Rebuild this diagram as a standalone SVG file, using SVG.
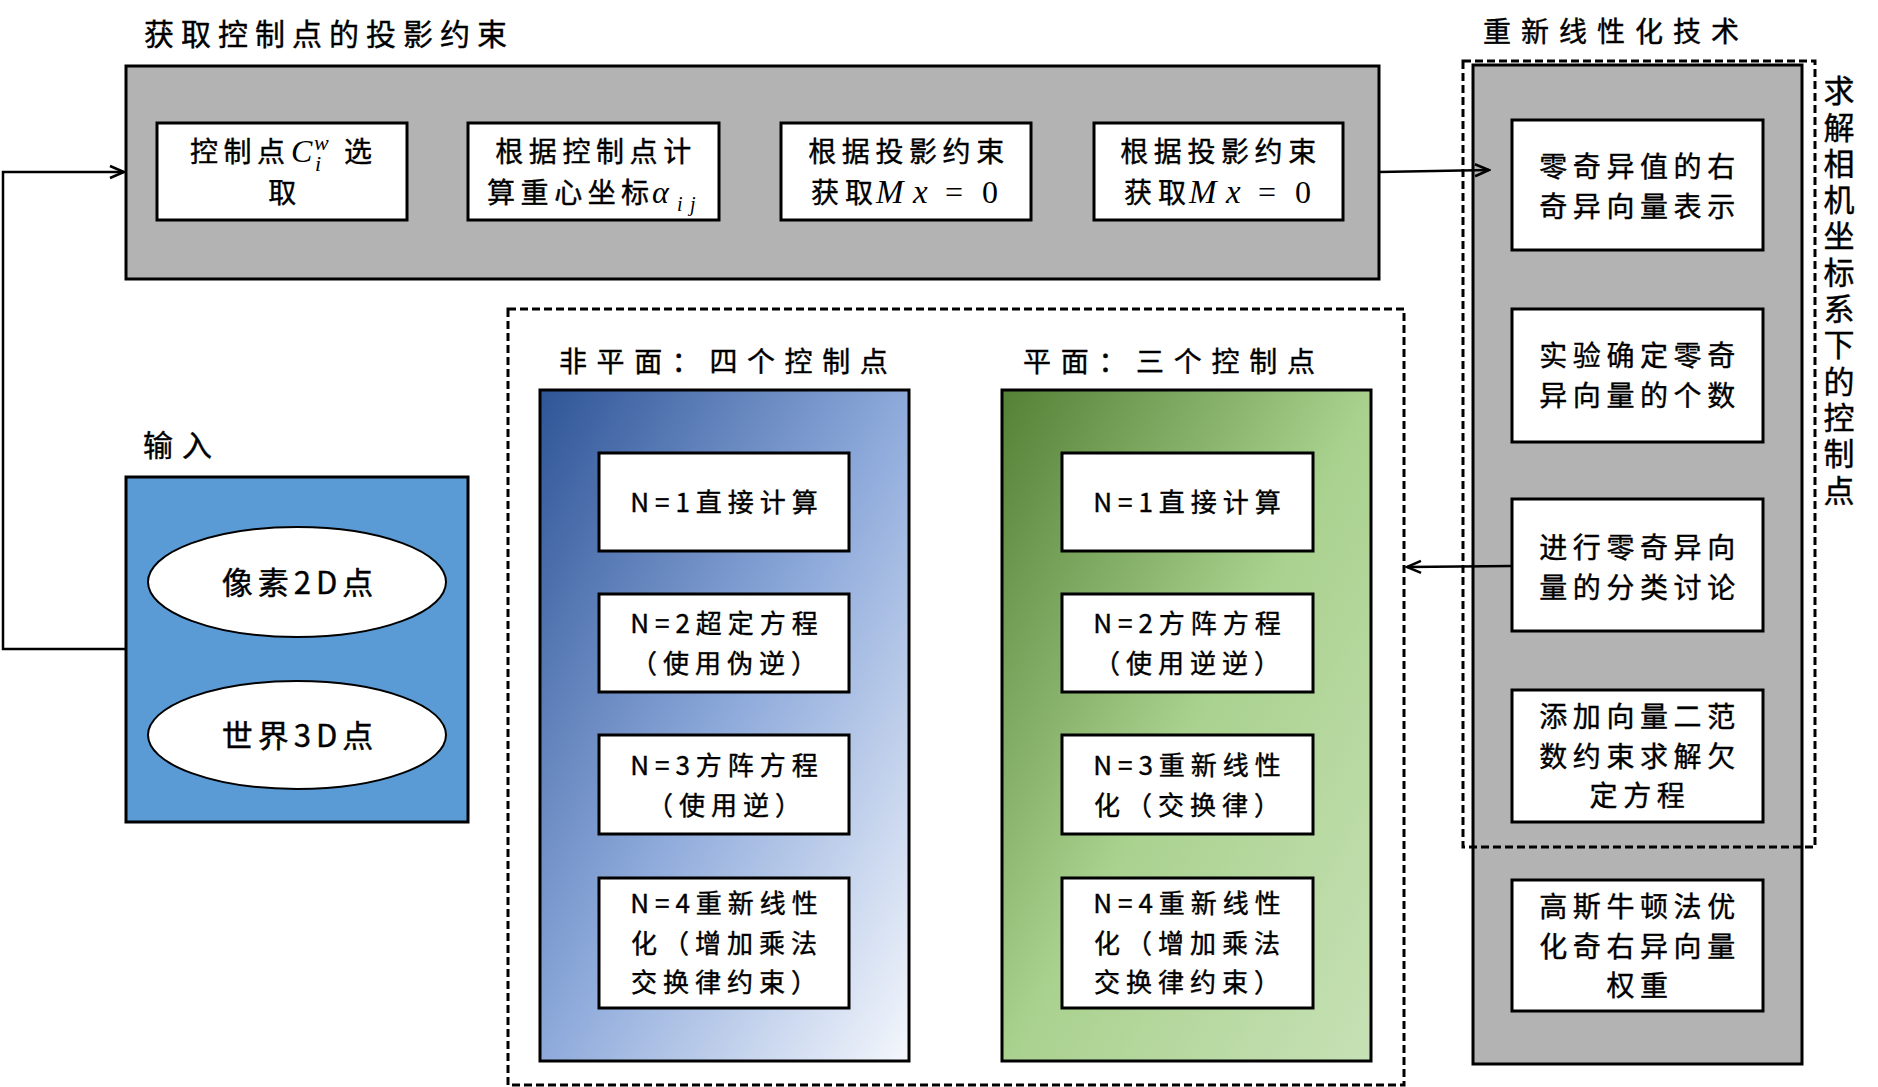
<svg xmlns="http://www.w3.org/2000/svg" width="1878" height="1087" viewBox="0 0 1878 1087">
<defs>
<style>
.t{font-family:"Noto Sans CJK SC","Noto Sans",sans-serif;fill:#000;stroke:#000;stroke-width:0.4px}
.ttl{font-size:30px;letter-spacing:7px}
.b{font-size:28px;letter-spacing:5.6px}
.m{font-size:26px;letter-spacing:6px}
.mi{font-family:"Liberation Serif","DejaVu Serif",serif;font-style:italic;letter-spacing:0;stroke-width:0}
.mr{font-family:"Liberation Serif","DejaVu Serif",serif;font-style:normal;letter-spacing:0;stroke-width:0}
.box{fill:#fff;stroke:#000;stroke-width:3}
.gray{fill:#b3b3b3;stroke:#000;stroke-width:3}
.dash{fill:none;stroke:#000;stroke-width:3;stroke-dasharray:8 4}
.conn{fill:none;stroke:#000;stroke-width:2.5}
</style>
<linearGradient id="gBlue" x1="0" y1="0" x2="1" y2="1">
<stop offset="0" stop-color="#2f5597"/>
<stop offset="0.5" stop-color="#8eaadb"/>
<stop offset="1" stop-color="#f4f7fc"/>
</linearGradient>
<linearGradient id="gGreen" x1="0" y1="0" x2="1" y2="1">
<stop offset="0" stop-color="#538135"/>
<stop offset="0.5" stop-color="#a9d18e"/>
<stop offset="1" stop-color="#c7e1b6"/>
</linearGradient>
<marker id="arr" viewBox="0 0 18 16" refX="16" refY="8" markerWidth="18" markerHeight="16" markerUnits="userSpaceOnUse" orient="auto">
<path d="M2,2 L16,8 L2,14" fill="none" stroke="#000" stroke-width="2.5"/>
</marker>
</defs>

<!-- Titles -->
<text class="t ttl" x="144" y="45">获取控制点的投影约束</text>
<text class="t" x="1483" y="42" style="font-size:28px;letter-spacing:10px">重新线性化技术</text>
<text class="t" x="143" y="456" style="font-size:30px;letter-spacing:9px">输入</text>
<text class="t" x="559" y="372" style="font-size:28px;letter-spacing:9.6px">非平面：四个控制点</text>
<text class="t" x="1023" y="372" style="font-size:28px;letter-spacing:9.7px">平面：三个控制点</text>

<!-- Top group: projection constraints -->
<g id="proj-group">
<rect class="gray" x="126" y="66" width="1253" height="213"/>
</g>
<g id="node-ctrl-select">
<rect class="box" x="157" y="123" width="250" height="97"/>
<text class="t b" y="162"><tspan x="190">控制</tspan><tspan x="257" style="letter-spacing:0">点</tspan><tspan class="mi" x="291" style="font-size:32px">C</tspan><tspan class="mi" x="314" dy="-12" style="font-size:22px">w</tspan><tspan class="mi" x="315" dy="21" style="font-size:22px">i</tspan><tspan x="344" dy="-9">选</tspan><tspan x="285" dy="41" text-anchor="middle">取</tspan></text>
</g>
<g id="node-barycentric">
<rect class="box" x="468" y="123" width="251" height="97"/>
<text class="t b" y="162"><tspan x="596" text-anchor="middle">根据控制点计</tspan><tspan x="487" dy="41">算重心坐</tspan><tspan x="621" style="letter-spacing:0">标</tspan><tspan class="mi" x="652" style="font-size:32px">α</tspan><tspan class="mi" x="677" dy="8" style="font-size:20px">i</tspan><tspan class="mi" x="690" style="font-size:20px">j</tspan></text>
</g>
<g id="node-mx0-a">
<rect class="box" x="781" y="123" width="250" height="97"/>
<text class="t b" y="162"><tspan x="909" text-anchor="middle">根据投影约束</tspan><tspan x="811" dy="41">获</tspan><tspan x="845" style="letter-spacing:0">取</tspan><tspan class="mi" x="876" style="font-size:33px">M</tspan><tspan class="mi" x="913" style="font-size:33px">x</tspan><tspan class="mr" x="945" style="font-size:32px">=</tspan><tspan class="mr" x="982" style="font-size:32px">0</tspan></text>
</g>
<g id="node-mx0-b">
<rect class="box" x="1094" y="123" width="249" height="97"/>
<text class="t b" y="162"><tspan x="1221" text-anchor="middle">根据投影约束</tspan><tspan x="1124" dy="41">获</tspan><tspan x="1158" style="letter-spacing:0">取</tspan><tspan class="mi" x="1189" style="font-size:33px">M</tspan><tspan class="mi" x="1226" style="font-size:33px">x</tspan><tspan class="mr" x="1258" style="font-size:32px">=</tspan><tspan class="mr" x="1295" style="font-size:32px">0</tspan></text>
</g>

<!-- Input group -->
<g id="input-group">
<rect x="126" y="477" width="342" height="345" fill="#5b9bd5" stroke="#000" stroke-width="3"/>
</g>
<g id="node-pixel2d">
<ellipse cx="297" cy="582" rx="149" ry="55" fill="#fff" stroke="#000" stroke-width="2"/>
<text class="t" x="300" y="594" text-anchor="middle" style="font-size:31px;letter-spacing:5px">像素2D点</text>
</g>
<g id="node-world3d">
<ellipse cx="297" cy="735" rx="149" ry="54" fill="#fff" stroke="#000" stroke-width="2"/>
<text class="t" x="300" y="747" text-anchor="middle" style="font-size:31px;letter-spacing:5px">世界3D点</text>
</g>

<!-- Middle dashed group -->
<g id="case-group">
<rect class="dash" x="508" y="309" width="896" height="776"/>
</g>
<g id="nonplanar-group">
<rect x="540" y="390" width="369" height="671" fill="url(#gBlue)" stroke="#000" stroke-width="3"/>
</g>
<g id="np-n1">
<rect class="box" x="599" y="453" width="250" height="98"/>
<text class="t m" x="727" y="512" text-anchor="middle">N=1直接计算</text>
</g>
<g id="np-n2">
<rect class="box" x="599" y="594" width="250" height="98"/>
<text class="t m" text-anchor="middle"><tspan x="727" y="633">N=2超定方程</tspan><tspan x="727" dy="40">（使用伪逆）</tspan></text>
</g>
<g id="np-n3">
<rect class="box" x="599" y="735" width="250" height="99"/>
<text class="t m" text-anchor="middle"><tspan x="727" y="775">N=3方阵方程</tspan><tspan x="727" dy="40">（使用逆）</tspan></text>
</g>
<g id="np-n4">
<rect class="box" x="599" y="878" width="250" height="130"/>
<text class="t m" text-anchor="middle"><tspan x="727" y="913">N=4重新线性</tspan><tspan x="727" dy="39.5">化（增加乘法</tspan><tspan x="727" dy="39.5">交换律约束）</tspan></text>
</g>

<g id="planar-group">
<rect x="1002" y="390" width="369" height="671" fill="url(#gGreen)" stroke="#000" stroke-width="3"/>
</g>
<g id="p-n1">
<rect class="box" x="1062" y="453" width="251" height="98"/>
<text class="t m" x="1190" y="512" text-anchor="middle">N=1直接计算</text>
</g>
<g id="p-n2">
<rect class="box" x="1062" y="594" width="251" height="98"/>
<text class="t m" text-anchor="middle"><tspan x="1190" y="633">N=2方阵方程</tspan><tspan x="1190" dy="40">（使用逆逆）</tspan></text>
</g>
<g id="p-n3">
<rect class="box" x="1062" y="735" width="251" height="99"/>
<text class="t m" text-anchor="middle"><tspan x="1190" y="775">N=3重新线性</tspan><tspan x="1190" dy="40">化（交换律）</tspan></text>
</g>
<g id="p-n4">
<rect class="box" x="1062" y="878" width="251" height="130"/>
<text class="t m" text-anchor="middle"><tspan x="1190" y="913">N=4重新线性</tspan><tspan x="1190" dy="39.5">化（增加乘法</tspan><tspan x="1190" dy="39.5">交换律约束）</tspan></text>
</g>

<!-- Right column -->
<g id="relin-group">
<rect class="gray" x="1473" y="65" width="329" height="999"/>
<rect class="dash" x="1463" y="61" width="352" height="786"/>
<text class="t" x="1839" y="75" writing-mode="vertical-rl" style="font-size:31px;letter-spacing:5.3px">求解相机坐标系下的控制点</text>
</g>
<g id="r-svd">
<rect class="box" x="1512" y="120" width="251" height="130"/>
<text class="t b" text-anchor="middle"><tspan x="1640" y="177">零奇异值的右</tspan><tspan x="1640" dy="39.5">奇异向量表示</tspan></text>
</g>
<g id="r-count">
<rect class="box" x="1512" y="309" width="251" height="133"/>
<text class="t b" text-anchor="middle"><tspan x="1640" y="366">实验确定零奇</tspan><tspan x="1640" dy="40">异向量的个数</tspan></text>
</g>
<g id="r-cases">
<rect class="box" x="1512" y="499" width="251" height="132"/>
<text class="t b" text-anchor="middle"><tspan x="1640" y="558">进行零奇异向</tspan><tspan x="1640" dy="40">量的分类讨论</tspan></text>
</g>
<g id="r-norm">
<rect class="box" x="1512" y="690" width="251" height="132"/>
<text class="t b" text-anchor="middle"><tspan x="1640" y="727">添加向量二范</tspan><tspan x="1640" dy="39.5">数约束求解欠</tspan><tspan x="1640" dy="39.5">定方程</tspan></text>
</g>
<g id="r-gn">
<rect class="box" x="1512" y="880" width="251" height="131"/>
<text class="t b" text-anchor="middle"><tspan x="1640" y="917">高斯牛顿法优</tspan><tspan x="1640" dy="39.5">化奇右异向量</tspan><tspan x="1640" dy="39.5">权重</tspan></text>
</g>

<!-- Connectors -->
<g id="connectors">
<path class="conn" d="M126,649 H3 V172 H124" marker-end="url(#arr)"/>
<path class="conn" d="M1379,172 L1489,170" marker-end="url(#arr)"/>
<path class="conn" d="M1512,566 L1407,567" marker-end="url(#arr)"/>
</g>
</svg>
